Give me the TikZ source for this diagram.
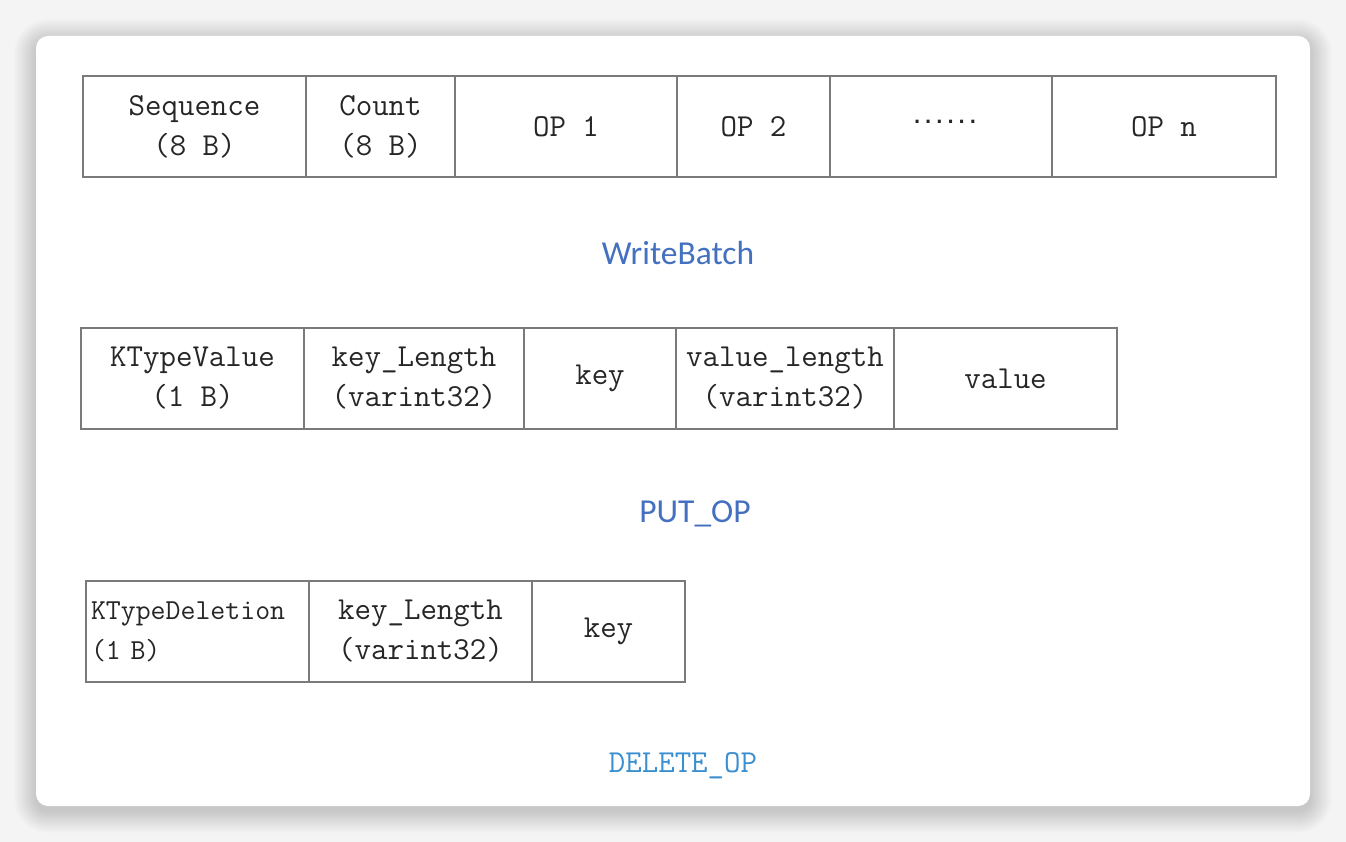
\documentclass[tikz,border=0pt]{standalone}
\usepackage{fontspec}
\newfontfamily\lblfont{Carlito}
\newfontfamily\dotfont{DejaVu Sans Mono}
\definecolor{bggray}{HTML}{F4F4F4}
\definecolor{linegray}{HTML}{7A7A7A}
\definecolor{txtgray}{HTML}{262626}
\definecolor{lblblue}{HTML}{4470C0}
\definecolor{delblue}{HTML}{3A8FD0}
\tikzset{
  cell/.style={draw=linegray, line width=1.8pt, inner sep=0pt, outer sep=0pt,
    minimum height=101pt, align=center, text=txtgray,
    font=\ttfamily\fontsize{32}{40}\selectfont},
  caption/.style={text=lblblue, font=\lblfont\fontsize{33.5}{36}\selectfont},
}
\begin{document}
\begin{tikzpicture}[x=1pt,y=-1pt]
\useasboundingbox (0,0) rectangle (1346,842);
\fill[bggray] (0,0) rectangle (1346,842);
% soft shadow
\foreach \s in {1,2,...,22}{
  \fill[black, opacity=0.009, rounded corners=12pt+\s pt] (36-\s,36-\s+5) rectangle (1310+\s,806+\s+5);
}
\fill[white, rounded corners=12pt] (36,36) rectangle (1310,806);

% WriteBatch row
\node[cell, minimum width=223pt] (seq) at (194.5,126.5) {Sequence\\(8 B)};
\node[cell, minimum width=149pt] (cnt) at (380.5,126.5) {Count\\(8 B)};
\node[cell, minimum width=222pt] (op1) at (566,126.5) {OP 1};
\node[cell, minimum width=153pt] (op2) at (753.5,126.5) {OP 2};
\node[cell, minimum width=222pt] (opd) at (941,126.5) {};
\node[text=txtgray, font=\dotfont\bfseries\fontsize{18.5}{20}\selectfont] (dots) at (945,122) {......};
\node[cell, minimum width=224pt] (opn) at (1164,126.5) {OP n};
\node[caption] (wb) at (678,253) {WriteBatch};

% PUT_OP row
\node[cell, minimum width=223pt] (ktv) at (192.5,378.5) {KTypeValue\\(1 B)};
\node[cell, minimum width=220pt] (kl) at (414,378.5) {key\_Length\\(varint32)};
\node[cell, minimum width=152pt] (k) at (600,378.5) {key};
\node[cell, minimum width=218pt] (vl) at (785,378.5) {value\_length\\(varint32)};
\node[cell, minimum width=223pt] (v) at (1005.5,378.5) {value};
\node[caption] (put) at (695,514) {PUT\_OP};

% DELETE_OP row
\node[cell, minimum width=223pt, text width=213pt, align=left,
  font=\ttfamily\fontsize{29}{40}\selectfont] (ktd) at (197.5,631.5) {KTypeDeletion\\(1 B)};
\node[cell, minimum width=223pt] (kl2) at (420.5,631.5) {key\_Length\\(varint32)};
\node[cell, minimum width=153pt] (k2) at (608.5,631.5) {key};
\node[text=delblue, font=\ttfamily\fontsize{32}{36}\selectfont] (del) at (683,766) {DELETE\_OP};
\end{tikzpicture}
\end{document}
